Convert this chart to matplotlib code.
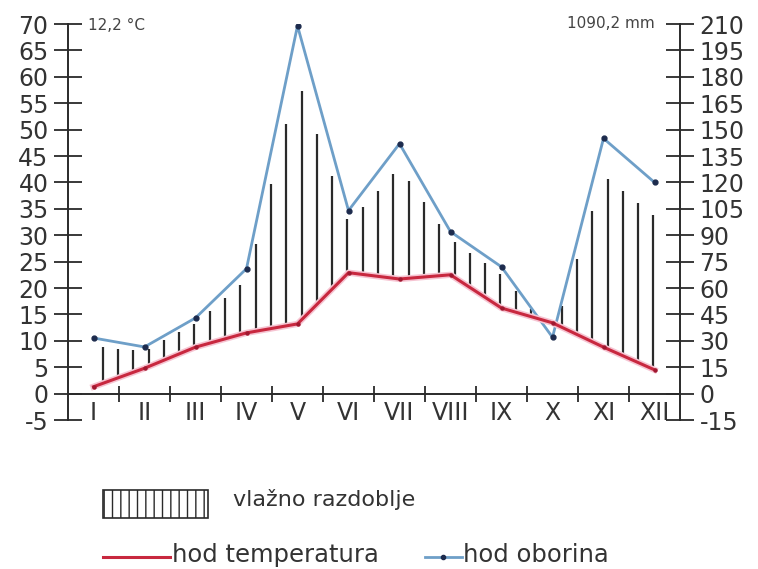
import matplotlib
matplotlib.use('Agg')
import matplotlib.pyplot as plt
import matplotlib.patheffects as pe
from matplotlib.patches import Rectangle
from matplotlib.lines import Line2D
import numpy as np

plt.rcParams['axes.unicode_minus'] = False

months = ['I', 'II', 'III', 'IV', 'V', 'VI', 'VII', 'VIII', 'IX', 'X', 'XI', 'XII']
temperature = [1.3, 4.8, 8.8, 11.5, 13.2, 22.9, 21.7, 22.5, 16.2, 13.4, 8.8, 4.5]   # °C
precipitation = [31.6, 26.5, 43, 71, 209, 104, 142, 92, 72, 32, 145, 120]        # mm
annual_temp = "12,2 °C"
annual_prec = "1090,2 mm"

RED = '#c8283f'
BLUE = '#6e9fc8'
DARK = '#2a2a2a'
W, H = 758, 569

fig = plt.figure(figsize=(W / 100, H / 100), dpi=100)
ax = fig.add_axes([68 / W, 1 - 420 / H, 612 / W, 396 / H])

x = np.arange(12) + 0.5
temp = np.array(temperature)
prec = np.array(precipitation) / 3.0  # precipitation on the temperature scale (1:3)

# wet period: vertical lines between the curves
xs = np.arange(0.68, 11.6, 0.3)
t_i = np.interp(xs, x, temp)
p_i = np.interp(xs, x, prec)
wet = p_i > t_i + 0.8
ax.vlines(xs[wet], (t_i + 0.4)[wet], (t_i + 0.82 * (p_i - t_i))[wet],
          color=DARK, lw=1.6, zorder=2)

ax.plot(x, temp, color=RED, lw=2.2, zorder=4,
        path_effects=[pe.Stroke(linewidth=4.5, foreground='#f6c4d2'), pe.Normal()])
ax.plot(x, temp, ls='none', marker='o', ms=2.2, color='#a01830', zorder=5)
ax.plot(x, prec, color=BLUE, lw=2.0, marker='o', ms=3.5,
        mfc='#1d2b4d', mec='#1d2b4d', zorder=3)

ax.set_xlim(0, 12)
ax.set_ylim(-5, 70)
ax.spines['top'].set_visible(False)
ax.spines['right'].set_visible(False)
ax.spines['bottom'].set_position(('data', 0))
for s in ['left', 'bottom']:
    ax.spines[s].set_color(DARK)
    ax.spines[s].set_linewidth(1.4)

ax.set_yticks(range(-5, 71, 5))
ax.tick_params(axis='y', direction='inout', length=20, width=1.3, color=DARK,
               labelsize=17, labelcolor='#333333', pad=4)
ax.set_xticks(range(1, 12))
ax.set_xticklabels([])
ax.tick_params(axis='x', which='major', direction='inout', length=12, width=1.3, color=DARK)
ax.set_xticks(x, minor=True)
ax.set_xticklabels(months, minor=True)
ax.tick_params(axis='x', which='minor', length=0, pad=5, labelsize=17, labelcolor='#333333')

ax2 = ax.twinx()
ax2.set_ylim(-15, 210)
ax2.set_yticks(range(-15, 211, 15))
for s in ['left', 'top', 'bottom']:
    ax2.spines[s].set_visible(False)
ax2.spines['right'].set_color(DARK)
ax2.spines['right'].set_linewidth(1.4)
ax2.tick_params(axis='y', direction='inout', length=20, width=1.3, color=DARK,
                labelsize=17, labelcolor='#333333', pad=4)

fig.text(88 / W, 1 - 25 / H, annual_temp, fontsize=11, va='center', ha='left', color='#444444')
fig.text(655 / W, 1 - 24 / H, annual_prec, fontsize=11, va='center', ha='right', color='#444444')

# legend drawn by hand
fig.add_artist(Rectangle((103 / W, 1 - 518 / H), 105 / W, 28 / H, transform=fig.transFigure,
                         fill=False, hatch='||', edgecolor=DARK, lw=1.2))
fig.text(233 / W, 1 - 500 / H, 'vlažno razdoblje', fontsize=16, va='center', ha='left', color='#333333')
fig.add_artist(Line2D([103 / W, 170 / W], [1 - 557 / H] * 2, transform=fig.transFigure,
                      color=RED, lw=2.2))
fig.text(172 / W, 1 - 555 / H, 'hod temperatura', fontsize=17.5, va='center', ha='left', color='#333333')
fig.add_artist(Line2D([425 / W, 443 / W, 462 / W], [1 - 557 / H] * 3, transform=fig.transFigure,
                      color=BLUE, lw=2.0, marker='o', ms=3, markevery=[1],
                      mfc='#1d2b4d', mec='#1d2b4d'))
fig.text(463 / W, 1 - 555 / H, 'hod oborina', fontsize=17.5, va='center', ha='left', color='#333333')

fig.savefig('out.png', dpi=100)
